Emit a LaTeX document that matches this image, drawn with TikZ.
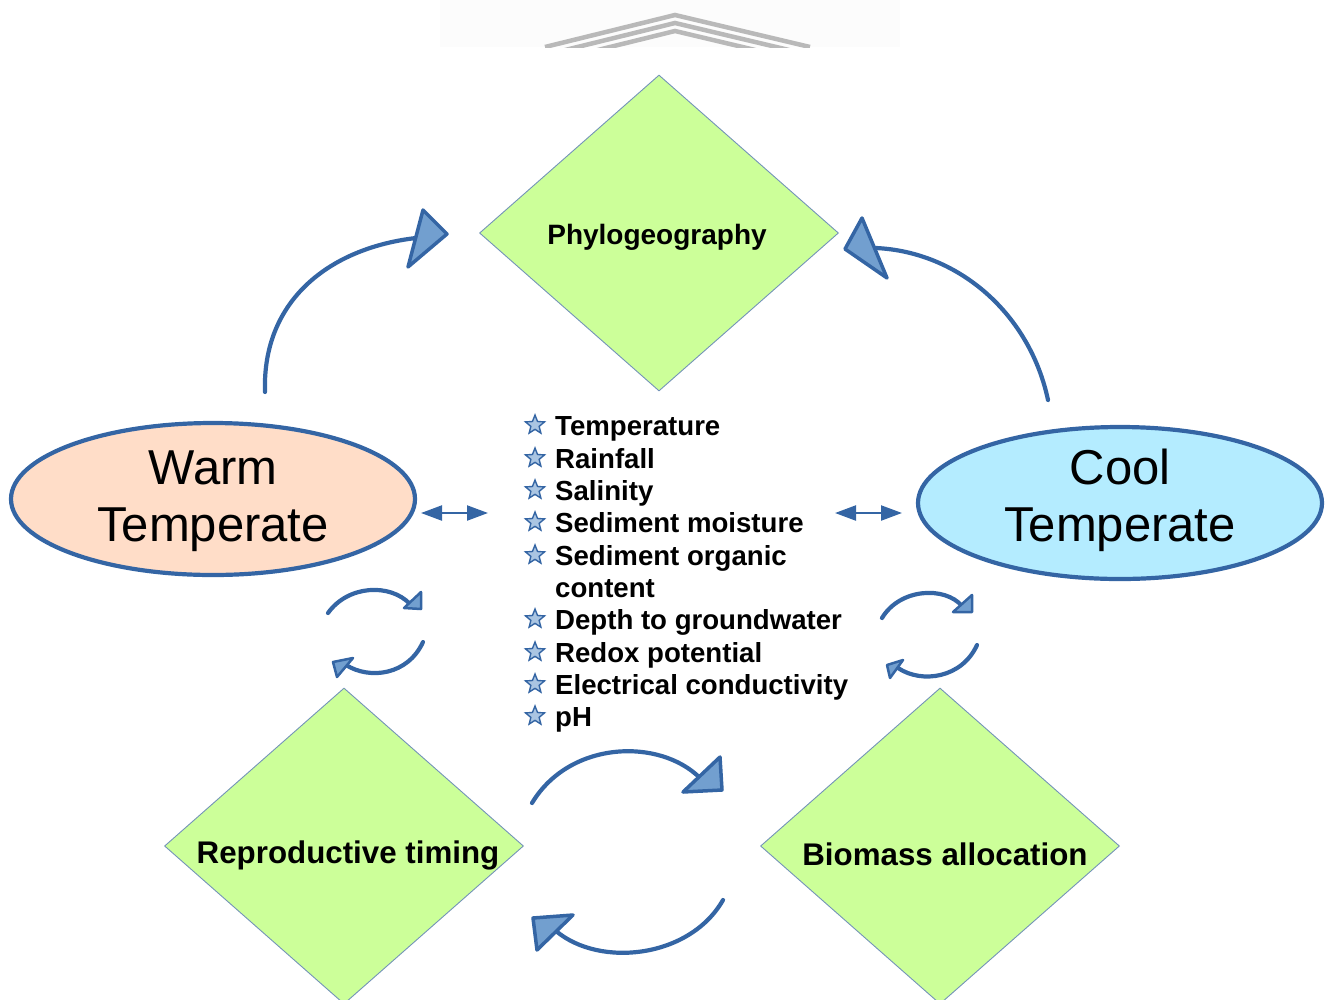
\documentclass[tikz,border=0pt]{standalone}
\usepackage{fontspec}
\setmainfont{Liberation Sans}
\usetikzlibrary{shapes.geometric,arrows.meta}
\definecolor{bord}{HTML}{3465A4}
\definecolor{afill}{HTML}{729FCF}
\definecolor{leaf}{HTML}{CCFF99}
\definecolor{leafline}{HTML}{7393B8}
\definecolor{peach}{HTML}{FFDDC8}
\definecolor{sky}{HTML}{B4ECFF}
\tikzset{
  gem/.style={diamond, draw=leafline, line width=0.9pt, fill=leaf, inner sep=0pt,
    minimum width=359pt, minimum height=316pt},
  climate/.style={ellipse, draw=bord, line width=4.2pt, inner sep=0pt, align=center,
    minimum width=404pt, minimum height=152pt, font=\fontsize{49}{57}\selectfont},
  curvy/.style={draw=bord, line width=4.2pt, line cap=round},
  tiphead/.style={draw=bord, fill=afill, line width=3.5pt, line join=round},
  twoway/.style={draw=afill, line width=2.2pt, {Triangle[length=21pt,width=15pt]}-{Triangle[length=21pt,width=15pt]}, bord},
  bulletstar/.style={star, star points=5, star point ratio=2.3, minimum size=20pt, inner sep=0pt,
    draw=bord, line width=1.4pt, fill=afill!60},
  listitem/.style={anchor=base west, inner sep=0pt, font=\fontsize{27.6}{32}\selectfont\bfseries},
  gemtext/.style={font=\fontsize{31.3}{36}\selectfont\bfseries},
  chevron/.style={draw=gray!55, line width=4.5pt}
}
\begin{document}
\begin{tikzpicture}[x=1pt,y=-1pt]
\useasboundingbox (0,0) rectangle (1327,999);
\clip (0,0) rectangle (1327,999);
% faint watermark
\begin{scope}
\clip (440,0) rectangle (900,47);
\fill[gray!2] (440,0) rectangle (900,47);
\draw[chevron] (545,47) -- (675,15) -- (810,47);
\draw[chevron] (545,55) -- (675,23) -- (810,55);
\draw[chevron] (545,63) -- (675,31) -- (810,63);
\end{scope}
% diamonds
\node[gem] (phylo) at (659,233) {};
\node[gem] (repro) at (344,846) {};
\node[gem] (biomass) at (940,846) {};
\node[font=\fontsize{28}{32}\selectfont\bfseries] (phylot) at (657,237) {Phylogeography};
\node[gemtext] (reprot) at (348,855) {Reproductive timing};
\node[gemtext] (biomasst) at (945,854) {Biomass allocation};
% ellipses
\node[climate, fill=peach] (warm) at (213,499) {};
\node[climate, fill=sky] (cool) at (1120,503) {};
\node[font=\fontsize{49}{57}\selectfont, align=center] (warmt) at (213,501) {Warm\\Temperate};
\node[font=\fontsize{49}{57}\selectfont, align=center] (coolt) at (1120,500) {Cool\\Temperate};
% big arrows to phylogeography
\coordinate (wa) at (265,392);
\coordinate (wb) at (416,238);
\draw[curvy] (wa) .. controls (262,300) and (330,248) .. (wb);
\draw[tiphead] (423,210) -- (447,234) -- (408,267) -- cycle;
\coordinate (ca) at (1048,400);
\coordinate (cb) at (876,248);
\draw[curvy] (ca) .. controls (1030,315) and (960,252) .. (cb);
\draw[tiphead] (862,218) -- (845,249) -- (887,278) -- cycle;
% bottom cycle
\coordinate (ba) at (532,803);
\coordinate (bb) at (700,778);
\draw[curvy] (ba) .. controls (570,740) and (660,738) .. (bb);
\draw[tiphead] (720,757) -- (722,790) -- (683,792) -- cycle;
\coordinate (bc) at (723,900);
\coordinate (bd) at (556,931);
\draw[curvy] (bc) .. controls (690,958) and (600,968) .. (bd);
\draw[tiphead] (533,918) -- (573,915) -- (537,950) -- cycle;
% small left cycle
\coordinate (la) at (328,613);
\coordinate (lb) at (410,604);
\draw[curvy] (la) .. controls (348,585) and (390,583) .. (lb);
\draw[tiphead, line width=2.5pt] (421,592) -- (421,609) -- (404,608) -- cycle;
\coordinate (lc) at (423,642);
\coordinate (ld) at (346,665);
\draw[curvy] (lc) .. controls (408,675) and (370,680) .. (ld);
\draw[tiphead, line width=2.5pt] (333,662) -- (353,658) -- (337,677) -- cycle;
% small right cycle
\coordinate (ra) at (882,618);
\coordinate (rb) at (962,606);
\draw[curvy] (ra) .. controls (900,588) and (945,586) .. (rb);
\draw[tiphead, line width=2.5pt] (972,595) -- (972,612) -- (953,612) -- cycle;
\coordinate (rc) at (977,645);
\coordinate (rd) at (898,668);
\draw[curvy] (rc) .. controls (962,678) and (922,684) .. (rd);
\draw[tiphead, line width=2.5pt] (887,665) -- (903,660) -- (890,678) -- cycle;
% two-way arrows
\coordinate (l1a) at (421,513);
\coordinate (l1b) at (488,513);
\draw[twoway] (l1a) -- (l1b);
\coordinate (r1a) at (835,513);
\coordinate (r1b) at (902,513);
\draw[twoway] (r1a) -- (r1b);
% list
\foreach \y/\t [count=\i] in {425/Temperature, 458/Rainfall, 490/Salinity, 522/Sediment moisture,
  555/Sediment organic, 619/Depth to groundwater, 652/Redox potential, 684/Electrical conductivity, 716/pH}{
  \node[bulletstar] (s\i) at (535,\y) {};
  \node[listitem] (t\i) at (555,\y+10) {\t};
}
\node[listitem] (t5b) at (555,597) {content};
\end{tikzpicture}
\end{document}
